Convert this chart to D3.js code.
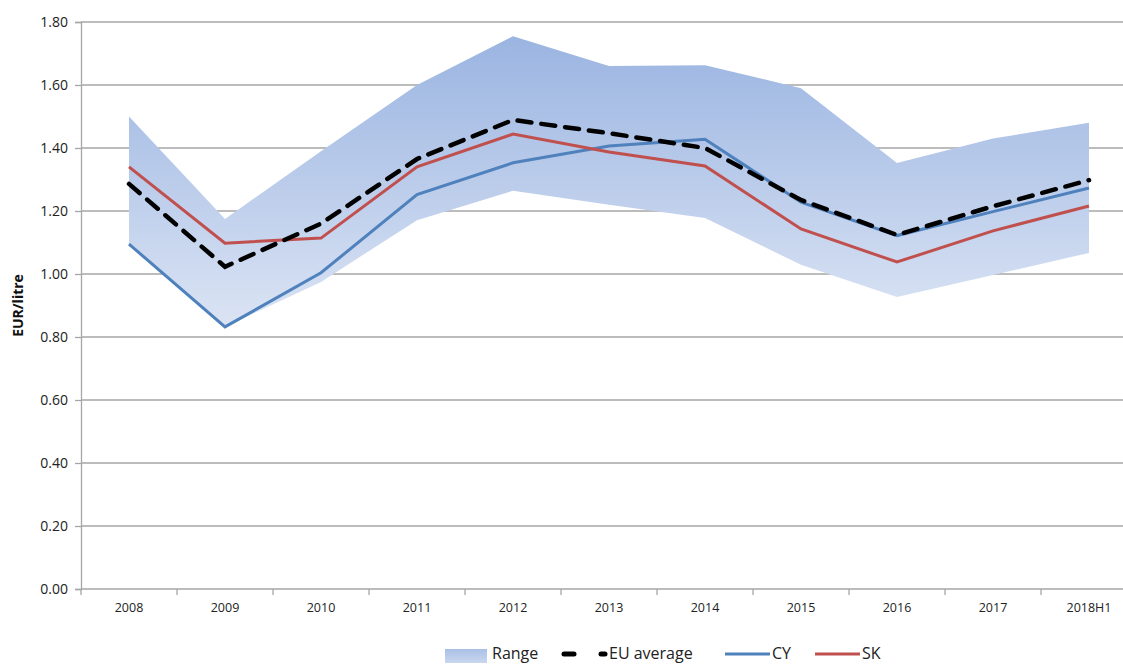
<!DOCTYPE html>
<html><head><meta charset="utf-8">
<script src="https://cdn.jsdelivr.net/npm/d3@7"></script>
<style>body{margin:0;background:#fff}svg{display:block}</style>
</head><body>
<svg id="c" width="1123" height="664"></svg>
<script>
const categories = ["2008","2009","2010","2011","2012","2013","2014","2015","2016","2017","2018H1"];
const rangeHigh = [1.50,1.175,1.39,1.60,1.755,1.66,1.663,1.59,1.352,1.43,1.48];
const rangeLow  = [1.095,0.832,0.975,1.171,1.264,1.22,1.178,1.029,0.927,0.997,1.067];
const euAverage = [1.286,1.023,1.16,1.365,1.489,1.447,1.40,1.235,1.124,1.215,1.298];
const cy = [1.095,0.832,1.004,1.252,1.353,1.406,1.428,1.228,1.122,1.198,1.273];
const sk = [1.34,1.098,1.114,1.34,1.444,1.387,1.343,1.143,1.038,1.137,1.216];
const yTicks = [0,0.2,0.4,0.6,0.8,1.0,1.2,1.4,1.6,1.8];

const svg = d3.select("#c");
const L = 81, R = 1137, T = 22, B = 589;
const x = d3.scaleBand().domain(categories).range([L, R]);
const y = d3.scaleLinear().domain([0, 1.8]).range([B, T]);
const cx = d => x(d) + x.bandwidth()/2;
const font = "'Open Sans', 'Liberation Sans', sans-serif";

const defs = svg.append("defs");
const g = defs.append("linearGradient").attr("id","rg").attr("gradientUnits","userSpaceOnUse")
  .attr("x1",0).attr("x2",0).attr("y1",y(1.76)).attr("y2",y(0.83));
g.append("stop").attr("offset","0").attr("stop-color","#9ab4e1");
g.append("stop").attr("offset","1").attr("stop-color","#dbe4f4");
const lg = defs.append("linearGradient").attr("id","lg").attr("x1",0).attr("x2",0).attr("y1",0).attr("y2",1);
lg.append("stop").attr("offset","0").attr("stop-color","#a9c0e6");
lg.append("stop").attr("offset","1").attr("stop-color","#c9d7ef");

// gridlines
svg.append("g").selectAll("line").data(yTicks.slice(1)).join("line")
  .attr("x1", L).attr("x2", 1123).attr("y1", d=>y(d)).attr("y2", d=>y(d))
  .attr("stroke","#a6a6a6").attr("stroke-width",1.3);

// range area
const area = d3.area().x((d,i)=>cx(categories[i])).y0((d,i)=>y(rangeLow[i])).y1(d=>y(d));
svg.append("path").datum(rangeHigh).attr("d", area).attr("fill","url(#rg)");

// axes
const yAxis = svg.append("g").attr("transform",`translate(${L},0)`)
  .call(d3.axisLeft(y).tickValues(yTicks).tickFormat(d3.format(".2f")).tickSize(6).tickPadding(7));
yAxis.select(".domain").attr("stroke","#a6a6a6").attr("stroke-width",1.3);
yAxis.selectAll(".tick line").attr("stroke","#a6a6a6").attr("stroke-width",1.3);
yAxis.selectAll("text").attr("font-family",font).attr("font-size",14).attr("fill","#222");

const xAxis = svg.append("g").attr("transform",`translate(0,${B})`)
  .call(d3.axisBottom(x).tickSize(0).tickPadding(14));
xAxis.select(".domain").attr("stroke","#a6a6a6").attr("stroke-width",1.3).attr("d",`M${L},0H1123`);
xAxis.selectAll("text").attr("font-family",font).attr("font-size",12.5).attr("fill","#222");
svg.append("g").selectAll("line").data(d3.range(categories.length+1)).join("line")
  .attr("x1", i=>L + i*x.bandwidth()).attr("x2", i=>L + i*x.bandwidth())
  .attr("y1", B).attr("y2", B+6).attr("stroke","#a6a6a6").attr("stroke-width",1.3);

svg.append("text").attr("transform",`translate(23,${(T+B)/2}) rotate(-90)`)
  .attr("text-anchor","middle").attr("font-family",font).attr("font-size",14)
  .attr("font-weight","bold").attr("fill","#111").text("EUR/litre");

// lines
const line = d3.line().x((d,i)=>cx(categories[i])).y(d=>y(d));
svg.append("path").datum(cy).attr("d",line).attr("fill","none").attr("stroke","#4f81bd").attr("stroke-width",3);
svg.append("path").datum(sk).attr("d",line).attr("fill","none").attr("stroke","#c0504d").attr("stroke-width",3);
svg.append("path").datum(euAverage).attr("d",line).attr("fill","none").attr("stroke","#000")
  .attr("stroke-width",4.5).attr("stroke-dasharray","14,10").attr("stroke-linecap","round");

// legend
const ly = 654, ty = 659;
const leg = svg.append("g").attr("font-family",font).attr("font-size",16).attr("fill","#222");
leg.append("rect").attr("x",445).attr("y",649).attr("width",42).attr("height",14).attr("fill","url(#lg)");
leg.append("text").attr("x",492).attr("y",ty).text("Range");
leg.append("line").attr("x1",564).attr("x2",574).attr("y1",ly).attr("y2",ly).attr("stroke","#000").attr("stroke-width",5).attr("stroke-linecap","round");
leg.append("line").attr("x1",601).attr("x2",605).attr("y1",ly).attr("y2",ly).attr("stroke","#000").attr("stroke-width",5).attr("stroke-linecap","round");
leg.append("text").attr("x",609).attr("y",ty).text("EU average");
leg.append("line").attr("x1",725).attr("x2",770).attr("y1",ly).attr("y2",ly).attr("stroke","#4f81bd").attr("stroke-width",3);
leg.append("text").attr("x",772).attr("y",ty).text("CY");
leg.append("line").attr("x1",815).attr("x2",860).attr("y1",ly).attr("y2",ly).attr("stroke","#c0504d").attr("stroke-width",3);
leg.append("text").attr("x",862).attr("y",ty).text("SK");
</script>
</body></html>
